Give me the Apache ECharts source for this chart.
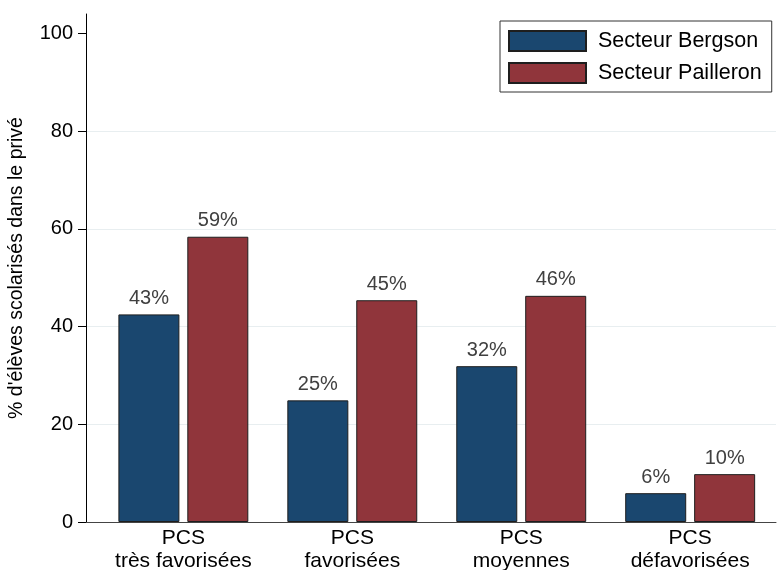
<!DOCTYPE html>
<html>
<head>
<meta charset="utf-8">
<script src="https://cdn.jsdelivr.net/npm/echarts@6/dist/echarts.min.js"></script>
<style>html,body{margin:0;padding:0;background:#fff;}#c{width:777px;height:570px;}</style>
</head>
<body>
<div id="c"></div>
<script>
var categories = ['PCS\ntrès favorisées', 'PCS\nfavorisées', 'PCS\nmoyennes', 'PCS\ndéfavorisées'];
var seriesNames = ['Secteur Bergson', 'Secteur Pailleron'];
var bergson = [42.5, 24.9, 31.9, 5.9];
var pailleron = [58.4, 45.4, 46.3, 9.8];
var bergsonLabels = [43, 25, 32, 6];
var pailleronLabels = [59, 45, 46, 10];
var yTicks = [0, 20, 40, 60, 80, 100];
var yTitle = "% d'élèves scolarisés dans le privé";

var FONT = 'Liberation Sans, Arial, sans-serif';
function pts(vals) { return vals.map(function (v, i) { return [i + 1, v]; }); }
function lbl(arr) { return function (p) { return arr[p.dataIndex] + '%'; }; }

var chart = echarts.init(document.getElementById('c'), null, {renderer: 'canvas'});
chart.setOption({
  animation: false,
  backgroundColor: '#fff',
  textStyle: {fontFamily: FONT},
  grid: {left: 86, right: 1, top: 14, bottom: 48, containLabel: false, outerBoundsMode: 'none'},
  legend: {
    orient: 'vertical', left: 500, top: 21,
    data: seriesNames,
    itemWidth: 77, itemHeight: 20, itemGap: 10,
    padding: [9, 10, 8, 8],
    borderColor: '#333', borderWidth: 1,
    textStyle: {fontSize: 21.5, color: '#000', fontFamily: FONT, padding: [0, 0, 0, 7]},
    icon: 'rect'
  },
  xAxis: {
    type: 'value', min: 0.4237, max: 4.508,
    axisLine: {show: true, onZero: false, lineStyle: {color: '#444', width: 1}},
    axisTick: {show: false},
    splitLine: {show: false},
    axisLabel: {
      customValues: [1, 2, 3, 4],
      formatter: function (v) { return categories[Math.round(v) - 1] || ''; },
      fontSize: 21, color: '#000', lineHeight: 23, margin: 5, fontFamily: FONT
    }
  },
  yAxis: {
    type: 'value', min: 0, max: 104, interval: 20,
    name: yTitle, nameLocation: 'middle', nameGap: 59,
    nameTextStyle: {fontSize: 19.5, color: '#000', fontFamily: FONT},
    axisLine: {show: true, lineStyle: {color: '#000', width: 1}},
    axisTick: {show: true, length: 8, lineStyle: {color: '#000'},
      customValues: yTicks},
    axisLabel: {fontSize: 20, color: '#000', margin: 13, fontFamily: FONT,
      customValues: yTicks},
    splitLine: {show: true, lineStyle: {width: 1,
      color: ['rgba(0,0,0,0)', '#e8eef0', '#e8eef0', '#e8eef0', '#e8eef0', 'rgba(0,0,0,0)', 'rgba(0,0,0,0)']}}
  },
  series: [
    {
      name: seriesNames[0], type: 'bar', data: pts(bergson),
      barWidth: 61, barGap: '13%',
      itemStyle: {color: '#1a476f', borderColor: '#1e1e1e', borderWidth: 1},
      label: {show: true, position: 'top', distance: 6, formatter: lbl(bergsonLabels),
        fontSize: 20, color: '#404040', fontFamily: FONT}
    },
    {
      name: seriesNames[1], type: 'bar', data: pts(pailleron),
      barWidth: 61, barGap: '13%',
      itemStyle: {color: '#90353b', borderColor: '#1e1e1e', borderWidth: 1},
      label: {show: true, position: 'top', distance: 6, formatter: lbl(pailleronLabels),
        fontSize: 20, color: '#404040', fontFamily: FONT}
    }
  ]
});
</script>
</body>
</html>
